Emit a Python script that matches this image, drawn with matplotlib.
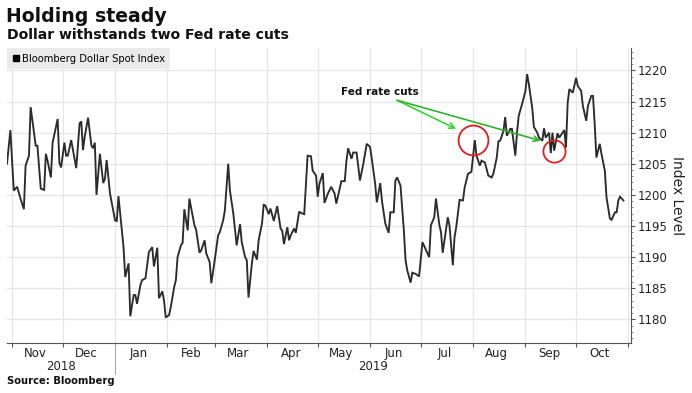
import matplotlib
matplotlib.use('Agg')
import matplotlib.pyplot as plt
import matplotlib.dates as mdates
import matplotlib.transforms as mtransforms
from matplotlib.lines import Line2D
from matplotlib.ticker import MultipleLocator, NullFormatter
import pandas as pd

plt.rcParams['font.family'] = ['DejaVu Sans']

dates = [
    "2018-10-29", "2018-10-31", "2018-11-02", "2018-11-04", "2018-11-06", "2018-11-08", "2018-11-09",
    "2018-11-11", "2018-11-12", "2018-11-15", "2018-11-16", "2018-11-18", "2018-11-20", "2018-11-21",
    "2018-11-22", "2018-11-24", "2018-11-25", "2018-11-28", "2018-11-29", "2018-11-30", "2018-12-02",
    "2018-12-03", "2018-12-04", "2018-12-06", "2018-12-09", "2018-12-11", "2018-12-12", "2018-12-13",
    "2018-12-14", "2018-12-16", "2018-12-18", "2018-12-19", "2018-12-20", "2018-12-21", "2018-12-23",
    "2018-12-25", "2018-12-26", "2018-12-27", "2018-12-29", "2019-01-01", "2019-01-02", "2019-01-03",
    "2019-01-05", "2019-01-06", "2019-01-07", "2019-01-09", "2019-01-10", "2019-01-12", "2019-01-13",
    "2019-01-14", "2019-01-16", "2019-01-17", "2019-01-19", "2019-01-21", "2019-01-23", "2019-01-24",
    "2019-01-26", "2019-01-27", "2019-01-29", "2019-01-30", "2019-01-31", "2019-02-02", "2019-02-03",
    "2019-02-05", "2019-02-06", "2019-02-07", "2019-02-09", "2019-02-10", "2019-02-11", "2019-02-13",
    "2019-02-14", "2019-02-17", "2019-02-18", "2019-02-20", "2019-02-21", "2019-02-23", "2019-02-24",
    "2019-02-26", "2019-02-27", "2019-03-01", "2019-03-03", "2019-03-04", "2019-03-06", "2019-03-07",
    "2019-03-09", "2019-03-10", "2019-03-12", "2019-03-14", "2019-03-16", "2019-03-17", "2019-03-19",
    "2019-03-20", "2019-03-21", "2019-03-23", "2019-03-24", "2019-03-26", "2019-03-27", "2019-03-29",
    "2019-03-30", "2019-03-31", "2019-04-02", "2019-04-03", "2019-04-05", "2019-04-07", "2019-04-09",
    "2019-04-10", "2019-04-11", "2019-04-13", "2019-04-14", "2019-04-15", "2019-04-17", "2019-04-18",
    "2019-04-20", "2019-04-21", "2019-04-23", "2019-04-25", "2019-04-27", "2019-04-28", "2019-04-30",
    "2019-05-01", "2019-05-02", "2019-05-04", "2019-05-05", "2019-05-07", "2019-05-09", "2019-05-11",
    "2019-05-12", "2019-05-14", "2019-05-15", "2019-05-17", "2019-05-18", "2019-05-19", "2019-05-21",
    "2019-05-22", "2019-05-24", "2019-05-26", "2019-05-28", "2019-05-30", "2019-06-01", "2019-06-02",
    "2019-06-04", "2019-06-05", "2019-06-07", "2019-06-08", "2019-06-10", "2019-06-12", "2019-06-13",
    "2019-06-15", "2019-06-16", "2019-06-17", "2019-06-19", "2019-06-21", "2019-06-22", "2019-06-23",
    "2019-06-25", "2019-06-26", "2019-06-28", "2019-06-30", "2019-07-02", "2019-07-04", "2019-07-06",
    "2019-07-07", "2019-07-09", "2019-07-10", "2019-07-12", "2019-07-13", "2019-07-14", "2019-07-17",
    "2019-07-18", "2019-07-20", "2019-07-21", "2019-07-22", "2019-07-24", "2019-07-26", "2019-07-27",
    "2019-07-29", "2019-07-31", "2019-08-02", "2019-08-03", "2019-08-05", "2019-08-06", "2019-08-08",
    "2019-08-10", "2019-08-12", "2019-08-13", "2019-08-15", "2019-08-16", "2019-08-17", "2019-08-19",
    "2019-08-20", "2019-08-21", "2019-08-23", "2019-08-24", "2019-08-26", "2019-08-27", "2019-08-28",
    "2019-08-30", "2019-09-01", "2019-09-02", "2019-09-03", "2019-09-05", "2019-09-06", "2019-09-08",
    "2019-09-09", "2019-09-11", "2019-09-12", "2019-09-13", "2019-09-15", "2019-09-16", "2019-09-17",
    "2019-09-18", "2019-09-20", "2019-09-21", "2019-09-23", "2019-09-24", "2019-09-25", "2019-09-26",
    "2019-09-27", "2019-09-29", "2019-10-01", "2019-10-02", "2019-10-04", "2019-10-05", "2019-10-07",
    "2019-10-08", "2019-10-10", "2019-10-11", "2019-10-12", "2019-10-13", "2019-10-15", "2019-10-16",
    "2019-10-18", "2019-10-19", "2019-10-21", "2019-10-22", "2019-10-24", "2019-10-25", "2019-10-26",
    "2019-10-27", "2019-10-29",
]

values = [
    1205.0, 1210.4, 1200.7, 1201.3, 1199.4, 1197.7, 1204.7,
    1206.3, 1214.1, 1207.9, 1207.9, 1201.0, 1200.8, 1206.6,
    1205.5, 1202.8, 1208.4, 1212.2, 1205.2, 1204.4, 1208.4,
    1206.3, 1206.3, 1208.8, 1204.3, 1211.5, 1211.8, 1207.2,
    1209.3, 1212.4, 1207.9, 1207.5, 1208.4, 1200.0, 1206.6,
    1201.9, 1202.6, 1205.6, 1200.2, 1195.9, 1195.8, 1199.8,
    1194.3, 1191.6, 1186.8, 1189.0, 1180.5, 1183.9, 1183.9,
    1182.5, 1185.5, 1186.3, 1186.6, 1190.8, 1191.6, 1188.5,
    1191.5, 1183.4, 1184.5, 1183.0, 1180.3, 1180.7, 1182.0,
    1185.2, 1186.3, 1190.0, 1191.9, 1192.3, 1197.7, 1194.3,
    1199.4, 1195.1, 1194.4, 1190.7, 1191.1, 1192.7, 1190.6,
    1189.2, 1185.8, 1189.5, 1193.5, 1194.0, 1195.9, 1197.5,
    1205.0, 1200.7, 1197.0, 1191.9, 1195.3, 1192.4, 1190.0,
    1189.5, 1183.5, 1189.0, 1191.0, 1189.6, 1192.7, 1195.4,
    1198.4, 1198.3, 1196.9, 1197.8, 1195.8, 1198.2, 1194.6,
    1194.2, 1192.1, 1194.8, 1192.7, 1193.5, 1194.6, 1193.9,
    1197.3, 1197.1, 1196.9, 1206.3, 1206.2, 1203.9, 1203.1,
    1199.7, 1201.8, 1203.5, 1198.7, 1200.2, 1201.3, 1200.2,
    1198.6, 1201.0, 1202.2, 1202.2, 1205.5, 1207.5, 1205.8,
    1206.8, 1206.8, 1202.3, 1205.0, 1208.2, 1207.7, 1205.8,
    1201.8, 1198.8, 1201.9, 1199.1, 1195.4, 1193.9, 1197.2,
    1197.2, 1202.3, 1202.8, 1201.5, 1194.3, 1189.5, 1187.9,
    1185.9, 1187.5, 1187.3, 1186.9, 1192.4, 1191.2, 1190.0,
    1195.1, 1196.4, 1199.4, 1195.2, 1194.0, 1190.7, 1196.4,
    1195.1, 1188.7, 1193.2, 1194.8, 1199.2, 1199.1, 1201.2,
    1203.4, 1203.7, 1208.8, 1206.3, 1204.7, 1205.5, 1205.2,
    1203.1, 1202.8, 1203.4, 1206.0, 1208.6, 1208.7, 1210.3,
    1212.5, 1209.5, 1210.6, 1210.6, 1206.3, 1210.0, 1212.7,
    1214.6, 1216.7, 1219.4, 1217.8, 1214.0, 1210.9, 1210.0,
    1209.2, 1208.7, 1210.7, 1209.2, 1210.0, 1206.7, 1210.0,
    1207.1, 1209.9, 1209.2, 1210.0, 1210.4, 1207.6, 1214.8,
    1217.0, 1216.4, 1218.8, 1217.5, 1216.7, 1214.3, 1211.9,
    1214.3, 1215.9, 1215.9, 1211.4, 1206.0, 1208.2, 1206.6,
    1203.9, 1199.6, 1196.2, 1196.0, 1197.2, 1197.2, 1199.1,
    1199.7, 1199.1,
]

series_label = "Bloomberg Dollar Spot Index"
cut_dates = ["2019-08-01", "2019-09-18"]
cut_values = [1208.8, 1207.0]
cut_circle_sizes = [21.5, 16.0]
annot_text = "Fed rate cuts"
annot_text_pos = ("2019-06-07", 1216.6)
annot_arrow_start = ("2019-06-17", 1215.2)
annot_arrow_ends = [("2019-07-22", 1210.6), ("2019-09-10", 1208.7)]
annot_arrow_colors = ["#39d339", "#2fb12f"]
y_ticks = [1180, 1185, 1190, 1195, 1200, 1205, 1210, 1215, 1220]

W, H = 692, 393
fig = plt.figure(figsize=(W / 100, H / 100), dpi=100)
fig.patch.set_facecolor('white')
ax = fig.add_axes([7 / W, 1 - 343 / H, (631 - 7) / W, (343 - 48) / H])

x = pd.to_datetime(dates)
ax.plot(x, values, color='#2b2b2b', lw=1.35, solid_joinstyle='miter', zorder=3)

ax.set_xlim(pd.Timestamp("2018-10-29"), pd.Timestamp("2019-11-02 12:00"))
ax.set_ylim(1176.2, 1223.6)

grid_c = '#e6e6e6'
ax.xaxis.set_major_locator(mdates.MonthLocator())
ax.xaxis.set_major_formatter(NullFormatter())
ax.xaxis.set_minor_locator(mdates.MonthLocator(bymonthday=15))
ax.xaxis.set_minor_formatter(mdates.DateFormatter('%b'))
ax.tick_params(axis='x', which='major', length=3, width=0.8, color='#555555', direction='out')
ax.tick_params(axis='x', which='minor', length=0, labelsize=8.5, labelcolor='#222222', pad=3)
ax.grid(axis='x', which='major', color=grid_c, lw=0.9)

ax.yaxis.tick_right()
ax.set_yticks(y_ticks)
ax.yaxis.set_minor_locator(MultipleLocator(1))
ax.tick_params(axis='y', which='major', length=3, width=0.8, color='#555555', labelsize=8.5,
               labelcolor='#222222', pad=2)
ax.tick_params(axis='y', which='minor', length=1.5, width=0.6, color='#777777')
ax.grid(axis='y', which='major', color=grid_c, lw=0.9)
ax.set_axisbelow(True)
ax.yaxis.set_label_position('right')
ax.set_ylabel('Index Level', rotation=270, fontsize=10, color='#222222', labelpad=12)

for side in ['top', 'left']:
    ax.spines[side].set_visible(False)
ax.spines['right'].set_color('#555555')
ax.spines['bottom'].set_color('#555555')
ax.spines['right'].set_linewidth(0.8)
ax.spines['bottom'].set_linewidth(0.8)

# Year labels
xl0, xl1 = ax.get_xlim()
jan1 = mdates.date2num(pd.Timestamp("2019-01-01"))
trans = mtransforms.blended_transform_factory(ax.transData, fig.transFigure)
ax.text((xl0 + jan1) / 2, 1 - 366 / H, '2018', transform=trans, ha='center', va='center',
        fontsize=8.5, color='#222222', clip_on=False)
ax.text((jan1 + xl1) / 2, 1 - 366 / H, '2019', transform=trans, ha='center', va='center',
        fontsize=8.5, color='#222222', clip_on=False)
ax.plot([jan1, jan1], [1 - 343 / H, 1 - 374 / H], transform=trans, color='#aaaaaa', lw=0.8,
        clip_on=False)

# Legend
handle = Line2D([], [], marker='s', color='black', linestyle='none', markersize=5)
leg = ax.legend([handle], [series_label], loc='upper left', bbox_to_anchor=(0, 1),
                borderaxespad=0, frameon=True, fancybox=False, fontsize=7.2,
                handlelength=0.6, handletextpad=0.3, borderpad=0.55)
leg.get_frame().set_facecolor('#ebebeb')
leg.get_frame().set_edgecolor('none')
leg.get_frame().set_alpha(1)

# Annotation
ax.text(pd.Timestamp(annot_text_pos[0]), annot_text_pos[1], annot_text, ha='center', va='center',
        fontsize=7.5, fontweight='bold', color='#111111', zorder=5)
for (d, v), c in zip(annot_arrow_ends, annot_arrow_colors):
    ax.annotate('', xy=(pd.Timestamp(d), v),
                xytext=(pd.Timestamp(annot_arrow_start[0]), annot_arrow_start[1]),
                arrowprops=dict(arrowstyle='->', color=c, lw=1.2, shrinkA=0, shrinkB=0,
                                mutation_scale=10), zorder=5)
for d, v, s in zip(cut_dates, cut_values, cut_circle_sizes):
    ax.plot([pd.Timestamp(d)], [v], marker='o', markersize=s, markerfacecolor='none',
            markeredgecolor='#e02020', markeredgewidth=1.3, zorder=6)

fig.text(6 / W, 1 - 16 / H, 'Holding steady', fontsize=13.6, fontweight='bold', color='#111111',
         va='center', ha='left')
fig.text(7 / W, 1 - 35 / H, 'Dollar withstands two Fed rate cuts', fontsize=10.1, fontweight='bold',
         color='#111111', va='center', ha='left')
fig.text(7 / W, 1 - 381 / H, 'Source: Bloomberg', fontsize=7.2, fontweight='bold', color='#111111',
         va='center', ha='left')

fig.savefig('out.png', dpi=100, facecolor='white')
